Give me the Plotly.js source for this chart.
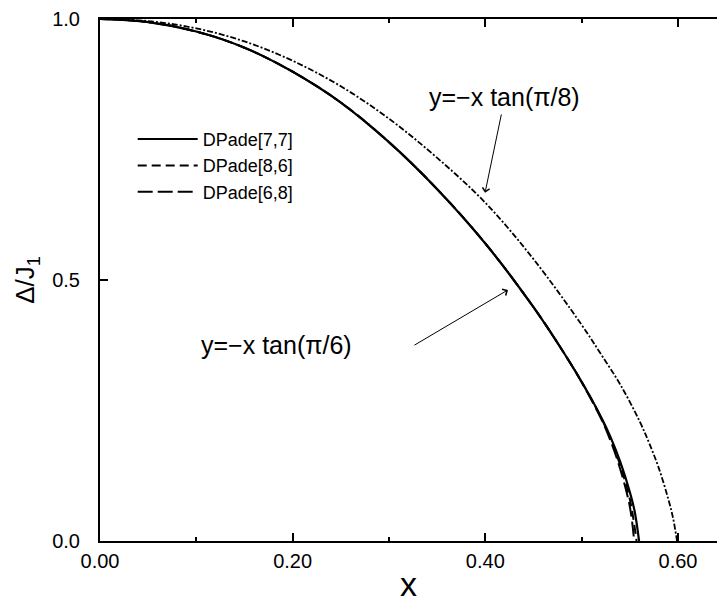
<!DOCTYPE html>
<html>
<head>
<meta charset="utf-8">
<script src="https://cdn.plot.ly/plotly-3.0.1.min.js"></script>
<style>html,body{margin:0;padding:0;background:#fff;}#chart{width:717px;height:603px;}</style>
</head>
<body>
<div id="chart"></div>
<script>
// --- data ---
const seriesNames = ["DPade[7,7]", "DPade[8,6]", "DPade[6,8]"];

// y = -x tan(pi/6) curves
const x77 = [0, 0.05, 0.10, 0.15, 0.20, 0.25, 0.30, 0.35, 0.40, 0.45, 0.48, 0.50, 0.52, 0.53, 0.54, 0.55, 0.555, 0.5596];
const y77 = [1.000, 0.994, 0.976, 0.945, 0.899, 0.840, 0.764, 0.674, 0.570, 0.448, 0.365, 0.305, 0.238, 0.199, 0.152, 0.094, 0.057, 0.000];
const x86 = [0, 0.05, 0.10, 0.15, 0.20, 0.25, 0.30, 0.35, 0.40, 0.45, 0.48, 0.50, 0.52, 0.53, 0.54, 0.55, 0.557];
const y86 = [1.000, 0.994, 0.976, 0.945, 0.899, 0.840, 0.764, 0.674, 0.570, 0.448, 0.365, 0.305, 0.237, 0.196, 0.145, 0.080, 0.000];
const x68 = [0, 0.05, 0.10, 0.15, 0.20, 0.25, 0.30, 0.35, 0.40, 0.45, 0.48, 0.50, 0.52, 0.53, 0.54, 0.55, 0.5545];
const y68 = [1.000, 0.994, 0.976, 0.945, 0.899, 0.840, 0.764, 0.674, 0.570, 0.448, 0.365, 0.304, 0.235, 0.192, 0.138, 0.066, 0.000];

// y = -x tan(pi/8) curve
const xPi8 = [0, 0.05, 0.10, 0.15, 0.20, 0.25, 0.30, 0.35, 0.40, 0.45, 0.50, 0.52, 0.54, 0.56, 0.57, 0.58, 0.59, 0.595, 0.599];
const yPi8 = [1.000, 0.996, 0.982, 0.957, 0.920, 0.871, 0.809, 0.734, 0.648, 0.540, 0.414, 0.358, 0.300, 0.230, 0.188, 0.140, 0.080, 0.043, 0.000];

const xTickVals = [0, 0.2, 0.4, 0.6];
const xTickText = ["0.00", "0.20", "0.40", "0.60"];
const yTickVals = [0, 0.5, 1.0];
const yTickText = ["0.0", "0.5", "1.0"];

const labelPi8 = "y=\u2212x tan(\u03c0/8)";
const labelPi6 = "y=\u2212x tan(\u03c0/6)";

const FONT = '"Liberation Sans", Arial, Helvetica, sans-serif';

const traces = [
  {x: x77, y: y77, name: seriesNames[0], mode: "lines",
   line: {color: "#000", width: 2.2, shape: "spline", smoothing: 1}},
  {x: x86, y: y86, name: seriesNames[1], mode: "lines",
   line: {color: "#000", width: 2, dash: "9px,5px", shape: "spline", smoothing: 1}},
  {x: x68, y: y68, name: seriesNames[2], mode: "lines",
   line: {color: "#000", width: 2, dash: "15px,5px", shape: "spline", smoothing: 1}},
  {x: xPi8, y: yPi8, name: "tan(\u03c0/8)", mode: "lines", showlegend: false,
   line: {color: "#000", width: 1.8, dash: "6px,2px,2px,2px", shape: "spline", smoothing: 1}}
];

const layout = {
  width: 717, height: 603,
  margin: {l: 100, r: 0, t: 19, b: 62, pad: 0},
  paper_bgcolor: "#fff", plot_bgcolor: "#fff",
  font: {family: FONT, color: "#000", size: 20},
  showlegend: true,
  legend: {x: 0.053, y: 0.805, xanchor: "left", yanchor: "top",
           font: {family: FONT, size: 18, color: "#000"},
           bgcolor: "rgba(0,0,0,0)", itemwidth: 60, tracegroupgap: 0},
  xaxis: {
    range: [0, 0.6405], showgrid: false, zeroline: false,
    showline: true, linecolor: "#000", linewidth: 2, mirror: "ticks",
    ticks: "inside", ticklen: 8, tickwidth: 2, tickcolor: "#000",
    tickvals: xTickVals, ticktext: xTickText,
    tickfont: {family: FONT, size: 20, color: "#000"},
    ticklabelstandoff: 1,
    minor: {dtick: 0.1, tick0: 0, ticks: "inside", ticklen: 4, tickwidth: 2, tickcolor: "#000", showgrid: false},
    title: {text: "x", font: {family: FONT, size: 34, color: "#000"}, standoff: 4}
  },
  yaxis: {
    range: [0, 1.0], showgrid: false, zeroline: false,
    showline: true, linecolor: "#000", linewidth: 2, mirror: false,
    ticks: "inside", ticklen: 8, tickwidth: 2, tickcolor: "#000",
    tickvals: yTickVals, ticktext: yTickText,
    tickfont: {family: FONT, size: 20, color: "#000"},
    ticklabelstandoff: 14,
    title: {text: "\u0394/J<sub>1</sub>", font: {family: FONT, size: 26, color: "#000"}, standoff: 10}
  },
  annotations: [
    {x: 0.3997, y: 0.667, ax: 0.4204, ay: 0.8506, xref: "x", yref: "y", axref: "x", ayref: "y",
     text: labelPi8, showarrow: true, arrowhead: 4, arrowsize: 1.4, arrowwidth: 1, arrowcolor: "#000",
     startstandoff: 2, font: {family: FONT, size: 25, color: "#000"}},
    {x: 0.1827, y: 0.3755, xref: "x", yref: "y", text: labelPi6, showarrow: false,
     font: {family: FONT, size: 25, color: "#000"}},
    {x: 0.4235, y: 0.481, ax: 0.3249, ay: 0.3736, xref: "x", yref: "y", axref: "x", ayref: "y",
     text: "", showarrow: true, arrowhead: 4, arrowsize: 1.4, arrowwidth: 1, arrowcolor: "#000"}
  ]
};

Plotly.newPlot("chart", traces, layout, {displayModeBar: false, staticPlot: true});
</script>
</body>
</html>
